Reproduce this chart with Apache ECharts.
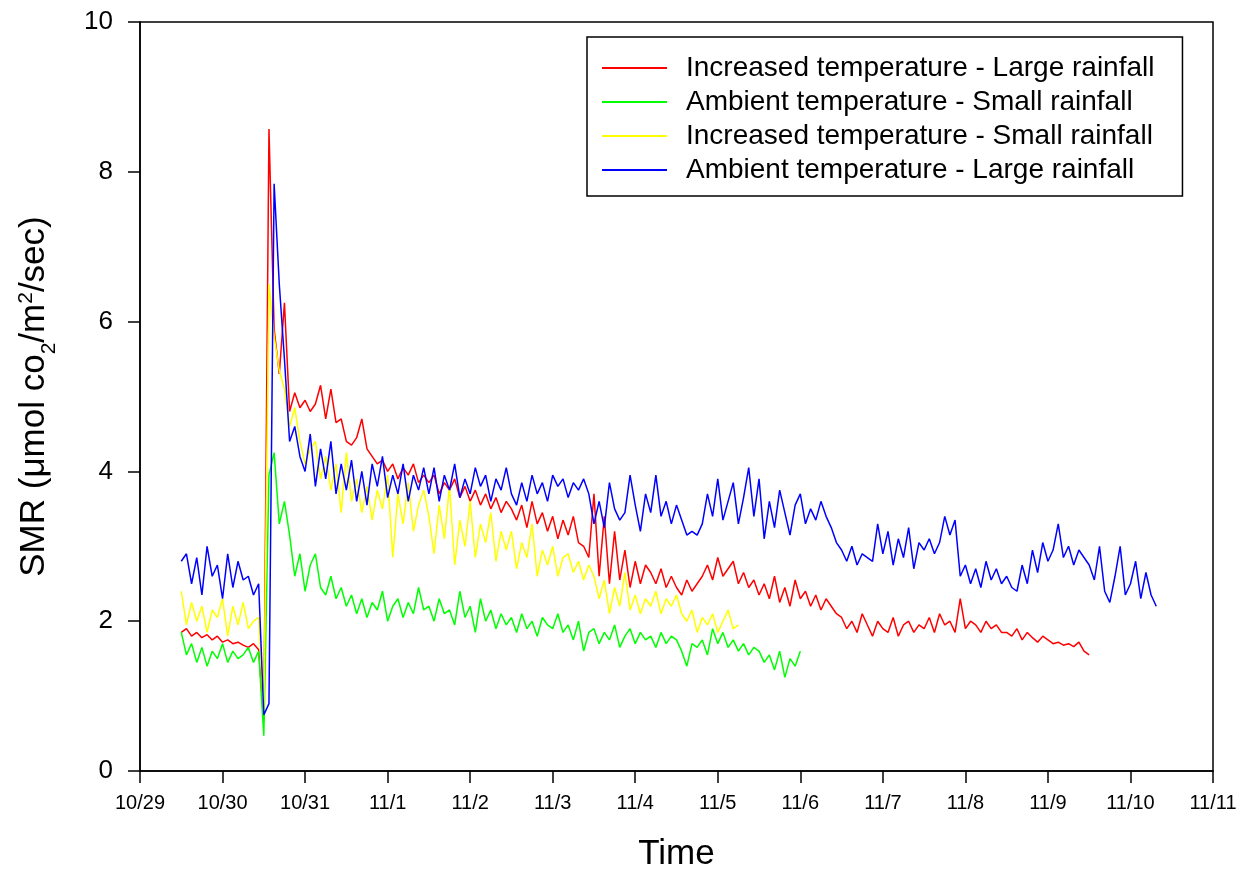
<!DOCTYPE html>
<html>
<head>
<meta charset="utf-8">
<script src="https://cdn.jsdelivr.net/npm/echarts@6/dist/echarts.min.js"></script>
<style>
  html, body { margin: 0; padding: 0; background: #fff; }
  #chart { width: 1243px; height: 873px; }
</style>
</head>
<body>
<div id="chart"></div>
<script>
// x axis is days after 10/29; each series starts 10/29 12:00, one reading per 1.5 h
var tickLabels = ['10/29', '10/30', '10/31', '11/1', '11/2', '11/3', '11/4', '11/5', '11/6', '11/7', '11/8', '11/9', '11/10', '11/11'];
var startDay = 0.5;
var stepDay = 1 / 16;

var names = [
  'Increased temperature - Large rainfall',
  'Ambient temperature - Small rainfall',
  'Increased temperature - Small rainfall',
  'Ambient temperature - Large rainfall'
];

var incLarge = [
  1.85, 1.9, 1.8, 1.85, 1.78, 1.82, 1.75, 1.8, 1.72, 1.75, 1.7, 1.72, 1.68, 1.65, 1.7, 1.62,
  0.67, 8.57, 5.9, 5.3, 6.25, 4.8, 5.05, 4.85, 4.95, 4.8, 4.9, 5.15, 4.7, 5.1, 4.65, 4.7,
  4.4, 4.35, 4.45, 4.7, 4.3, 4.2, 4.1, 4.15, 4.0, 4.1, 3.9, 4.05, 3.95, 4.1, 3.85, 3.95,
  3.85, 3.95, 3.7, 3.85, 3.75, 3.9, 3.65, 3.8, 3.6, 3.75, 3.55, 3.7, 3.5, 3.65, 3.45, 3.6,
  3.5, 3.35, 3.55, 3.25, 3.6, 3.3, 3.45, 3.2, 3.4, 3.1, 3.35, 3.15, 3.4, 3.05, 3.0, 2.85,
  3.7, 2.6, 3.4, 2.5, 3.2, 2.55, 2.95, 2.45, 2.8, 2.5, 2.75, 2.65, 2.5, 2.7, 2.45, 2.6,
  2.45, 2.35, 2.55, 2.4, 2.5, 2.6, 2.75, 2.55, 2.85, 2.6, 2.7, 2.8, 2.5, 2.65, 2.45, 2.55,
  2.35, 2.5, 2.3, 2.6, 2.25, 2.45, 2.2, 2.55, 2.3, 2.4, 2.2, 2.35, 2.15, 2.3, 2.2, 2.1,
  2.05, 1.9, 2.0, 1.85, 2.1, 1.95, 1.8, 2.0, 1.9, 1.85, 2.05, 1.8, 1.95, 2.0, 1.85, 1.95,
  1.9, 2.05, 1.85, 2.1, 1.95, 2.0, 1.85, 2.3, 1.9, 2.0, 1.95, 1.85, 2.0, 1.9, 1.95, 1.85,
  1.85, 1.8, 1.9, 1.75, 1.85, 1.78, 1.72, 1.8, 1.75, 1.7, 1.72, 1.68, 1.7, 1.66, 1.72, 1.6,
  1.55
];

var ambSmall = [
  1.85, 1.55, 1.7, 1.45, 1.65, 1.4, 1.6, 1.5, 1.7, 1.45, 1.6, 1.5, 1.55, 1.65, 1.45, 1.6,
  0.47, 3.95, 4.25, 3.3, 3.6, 3.15, 2.6, 2.9, 2.4, 2.75, 2.9, 2.45, 2.35, 2.6, 2.3, 2.45,
  2.2, 2.35, 2.1, 2.3, 2.05, 2.25, 2.15, 2.4, 2.0, 2.2, 2.3, 2.05, 2.25, 2.1, 2.45, 2.15,
  2.2, 2.0, 2.3, 2.1, 2.15, 1.95, 2.4, 2.05, 2.2, 1.85, 2.3, 2.0, 2.15, 1.9, 2.1, 1.95,
  2.05, 1.85, 2.1, 1.9, 2.0, 1.8, 2.05, 1.95, 1.9, 2.1, 1.85, 1.95, 1.75, 2.0, 1.6, 1.85,
  1.9, 1.7, 1.85, 1.75, 1.95, 1.65, 1.8, 1.9, 1.7, 1.85, 1.75, 1.8, 1.65, 1.85, 1.7, 1.8,
  1.75, 1.6, 1.4, 1.7, 1.65, 1.75, 1.55, 1.9, 1.7, 1.85, 1.65, 1.75, 1.6, 1.7, 1.55, 1.65,
  1.6, 1.45, 1.55, 1.35, 1.6, 1.25, 1.5, 1.4, 1.6
];

var incSmall = [
  2.4, 1.95, 2.25, 2.0, 2.2, 1.85, 2.15, 2.05, 2.3, 1.8, 2.2, 1.95, 2.25, 1.9, 2.0, 2.05,
  0.75, 6.5, 5.8, 5.35, 5.1, 4.6, 4.85, 4.4, 4.1, 4.3, 4.4, 3.9, 4.2, 3.75, 4.1, 3.45,
  4.25, 3.6, 3.9, 3.45, 3.8, 3.35, 3.75, 3.5, 3.95, 2.85, 3.7, 3.3, 3.85, 3.2, 3.55, 3.75,
  3.4, 2.9, 3.55, 3.1, 3.8, 2.75, 3.35, 3.0, 3.6, 2.85, 3.3, 3.05, 3.45, 2.8, 3.2, 2.95,
  3.2, 2.7, 3.05, 2.85, 3.3, 2.6, 2.95, 2.75, 3.0, 2.6, 2.85, 2.9, 2.65, 2.8, 2.55, 2.75,
  2.6, 2.3, 2.55, 2.1, 2.45, 2.2, 2.65, 2.15, 2.35, 2.1, 2.3, 2.2, 2.4, 2.1, 2.3, 2.2,
  2.35, 2.1, 2.0, 2.15, 1.85, 2.05, 1.95, 2.1, 1.85, 2.0, 2.15, 1.9, 1.95
];

var ambLarge = [
  2.8, 2.9, 2.5, 2.85, 2.35, 3.0, 2.6, 2.75, 2.3, 2.9, 2.45, 2.8, 2.55, 2.6, 2.35, 2.5,
  0.75, 0.9, 7.84, 6.5, 5.5, 4.4, 4.6, 4.2, 4.0, 4.5, 3.8, 4.3, 3.9, 4.4, 3.7, 4.1,
  3.75, 4.15, 3.6, 4.0, 3.55, 4.1, 3.8, 4.2, 3.65, 3.95, 3.7, 4.1, 3.6, 3.95, 3.75, 4.05,
  3.7, 4.05, 3.6, 3.95, 3.75, 4.1, 3.65, 3.9, 3.7, 4.05, 3.8, 3.95, 3.6, 3.9, 3.75, 4.05,
  3.7, 3.55, 3.85, 3.6, 3.95, 3.7, 3.85, 3.6, 3.95, 3.8, 3.9, 3.65, 3.85, 3.75, 3.9, 3.7,
  3.3, 3.6, 3.25, 3.85, 3.5, 3.35, 3.45, 3.95, 3.55, 3.2, 3.7, 3.45, 3.95, 3.4, 3.6, 3.3,
  3.55, 3.35, 3.15, 3.2, 3.15, 3.3, 3.7, 3.4, 3.9, 3.35, 3.6, 3.85, 3.3, 3.65, 4.05, 3.4,
  3.9, 3.1, 3.6, 3.25, 3.75, 3.45, 3.15, 3.55, 3.7, 3.3, 3.5, 3.35, 3.6, 3.4, 3.25, 3.05,
  2.95, 2.8, 3.0, 2.75, 2.9, 2.85, 2.8, 3.3, 2.9, 3.2, 2.75, 3.1, 2.85, 3.25, 2.7, 3.05,
  2.95, 3.1, 2.9, 3.05, 3.4, 3.15, 3.35, 2.6, 2.75, 2.5, 2.7, 2.45, 2.8, 2.55, 2.7, 2.5,
  2.6, 2.45, 2.4, 2.75, 2.5, 2.95, 2.65, 3.05, 2.8, 2.95, 3.3, 2.85, 3.0, 2.75, 2.95, 2.85,
  2.75, 2.55, 3.0, 2.4, 2.25, 2.6, 3.0, 2.35, 2.5, 2.8, 2.3, 2.65, 2.35, 2.2
];

var colors = ['#ff0000', '#00ff00', '#ffff00', '#0000ff'];

function toPoints(values) {
  return values.map(function (v, i) {
    return [startDay + i * stepDay, v];
  });
}

function makeSeries(idx, values) {
  return {
    name: names[idx],
    type: 'line',
    data: toPoints(values),
    showSymbol: false,
    symbol: 'none',
    animation: false,
    lineStyle: { color: colors[idx], width: 1.5 },
    itemStyle: { color: colors[idx] }
  };
}

var chart = echarts.init(document.getElementById('chart'));
chart.setOption({
  backgroundColor: '#fff',
  animation: false,
  textStyle: { fontFamily: 'Liberation Sans, Arial, sans-serif', color: '#000' },
  grid: {
    left: 140, right: 30, top: 22, bottom: 102,
    outerBoundsMode: 'none',
    show: true, borderColor: '#000', borderWidth: 1.5
  },
  legend: {
    orient: 'vertical',
    left: 587, top: 37,
    padding: [17, 28, 12, 15],
    itemGap: 6,
    itemWidth: 65,
    itemHeight: 2,
    icon: 'rect',
    borderColor: '#000',
    borderWidth: 1.5,
    backgroundColor: '#fff',
    textStyle: { fontSize: 28, color: '#000', padding: [0, 0, 0, 14], lineHeight: 28 },
    data: names
  },
  xAxis: {
    type: 'value',
    min: 0, max: 13, interval: 1,
    name: 'Time',
    nameLocation: 'middle',
    nameGap: 66,
    nameTextStyle: { fontSize: 35, color: '#000' },
    axisLine: { lineStyle: { color: '#000', width: 1.5 } },
    axisTick: { inside: false, length: 12, lineStyle: { color: '#000', width: 1.5 } },
    axisLabel: {
      fontSize: 20, color: '#000', margin: 22,
      formatter: function (v) { return tickLabels[Math.round(v)]; }
    },
    splitLine: { show: false }
  },
  yAxis: {
    type: 'value',
    min: 0, max: 10, interval: 2,
    name: 'SMR (μmol co{sub|2}/m{sup|2}/sec)',
    nameLocation: 'middle',
    nameGap: 84,
    nameRotate: 90,
    nameTextStyle: {
      fontSize: 35, color: '#000', lineHeight: 44,
      rich: {
        sub: { fontSize: 21, verticalAlign: 'bottom', lineHeight: 44, padding: [0, 0, -4, 0] },
        sup: { fontSize: 21, verticalAlign: 'top', lineHeight: 44, padding: [4, 0, 0, 0] }
      }
    },
    axisLine: { show: true, lineStyle: { color: '#000', width: 1.5 } },
    axisTick: { show: true, inside: false, length: 12, lineStyle: { color: '#000', width: 1.5 } },
    axisLabel: { fontSize: 26, color: '#000', margin: 27 },
    splitLine: { show: false }
  },
  series: [
    makeSeries(0, incLarge),
    makeSeries(1, ambSmall),
    makeSeries(2, incSmall),
    makeSeries(3, ambLarge)
  ]
});
</script>
</body>
</html>
